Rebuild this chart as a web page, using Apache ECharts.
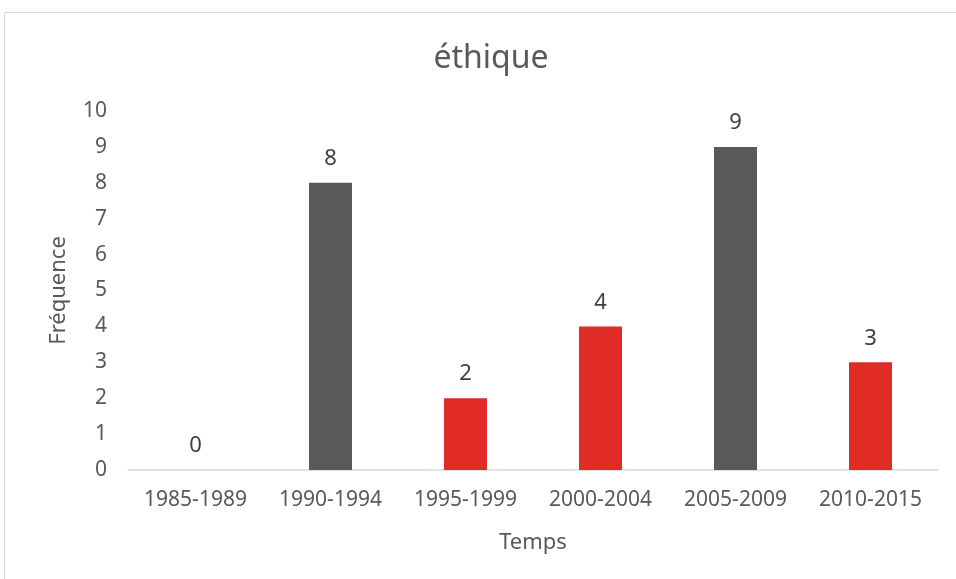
<!DOCTYPE html>
<html>
<head>
<meta charset="utf-8">
<script src="https://cdn.jsdelivr.net/npm/echarts@6/dist/echarts.min.js"></script>
<style>
html,body{margin:0;padding:0;background:#fff;}
#chart{width:956px;height:579px;}
</style>
</head>
<body>
<div id="chart"></div>
<script>
const titleText = "éthique";
const categories = ["1985-1989", "1990-1994", "1995-1999", "2000-2004", "2005-2009", "2010-2015"];
const frequencies = [0, 8, 2, 4, 9, 3];
const barColors = ["#595959", "#595959", "#E02B27", "#E02B27", "#595959", "#E02B27"];
const yTicks = [0, 1, 2, 3, 4, 5, 6, 7, 8, 9, 10];
const xName = "Temps";
const yName = "Fréquence";

const FONT = "Noto Sans";
const TXT = "#595959";

const chart = echarts.init(document.getElementById('chart'), null, {renderer: 'canvas'});
chart.setOption({
  backgroundColor: '#ffffff',
  animation: false,
  title: {
    text: titleText,
    left: 486,
    top: 38,
    textAlign: 'center',
    textStyle: {fontFamily: FONT, fontSize: 32, fontWeight: 'normal', color: TXT}
  },
  graphic: [{
    type: 'rect',
    shape: {x: 4.5, y: 12.5, width: 1000, height: 1000},
    style: {fill: 'none', stroke: '#d9d9d9', lineWidth: 1},
    silent: true
  }],
  grid: {left: 128, right: 18, top: 111, bottom: 109, containLabel: false},
  xAxis: {
    type: 'category',
    data: categories,
    name: xName,
    nameLocation: 'middle',
    nameGap: 62,
    nameTextStyle: {fontFamily: FONT, fontSize: 22, color: TXT},
    axisLine: {lineStyle: {color: '#d9d9d9', width: 1.5}},
    axisTick: {show: false},
    axisLabel: {fontFamily: FONT, fontSize: 21, color: TXT, margin: 20, interval: 0}
  },
  yAxis: {
    type: 'value',
    min: yTicks[0],
    max: yTicks[yTicks.length - 1],
    interval: 1,
    name: yName,
    nameLocation: 'middle',
    nameGap: 58,
    nameTextStyle: {fontFamily: FONT, fontSize: 22, color: TXT},
    axisLine: {show: false},
    axisTick: {show: false},
    splitLine: {show: false},
    axisLabel: {fontFamily: FONT, fontSize: 21, color: TXT, margin: 21}
  },
  series: [{
    type: 'bar',
    data: frequencies.map((v, i) => ({value: v, itemStyle: {color: barColors[i]}})),
    barWidth: 43,
    label: {
      show: true,
      position: 'top',
      distance: 13,
      fontFamily: FONT,
      fontSize: 22,
      color: '#404040'
    }
  }]
});
</script>
</body>
</html>
